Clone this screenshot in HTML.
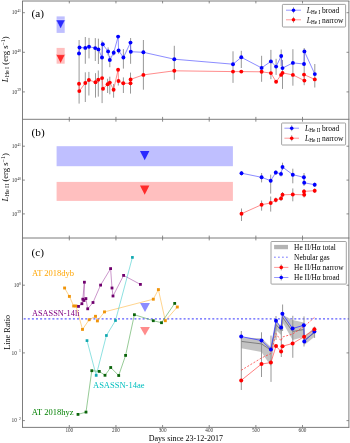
<!DOCTYPE html>
<html><head><meta charset="utf-8"><style>
html,body{margin:0;padding:0;background:#fff;width:350px;height:443px;overflow:hidden}
svg{display:block;will-change:transform}
text{font-family:"Liberation Serif",serif}
</style></head><body>
<svg width="350" height="443" viewBox="0 0 350 443">
<rect width="350" height="443" fill="#fff"/>
<g id="pa">
<rect x="56.60" y="16.40" width="8.10" height="16.50" fill="#bfbfff" />
<polygon points="56.00,19.90 65.20,19.90 60.60,29.00" fill="#2a2aff" stroke="#e8e8ff" stroke-width="0.5"/>
<rect x="56.60" y="47.90" width="8.10" height="15.80" fill="#ffbfbf" />
<polygon points="56.00,54.60 65.20,54.60 60.60,63.70" fill="#ff2a2a" stroke="#ffe8e8" stroke-width="0.5"/>
<line x1="79.10" y1="40.00" x2="79.10" y2="103.60" stroke="#8c8c8c" stroke-width="0.9" />
<line x1="85.30" y1="37.00" x2="85.30" y2="63.80" stroke="#8c8c8c" stroke-width="0.9" />
<line x1="89.00" y1="37.90" x2="89.00" y2="58.40" stroke="#8c8c8c" stroke-width="0.9" />
<line x1="95.30" y1="38.10" x2="95.30" y2="61.00" stroke="#8c8c8c" stroke-width="0.9" />
<line x1="98.40" y1="38.70" x2="98.40" y2="64.00" stroke="#8c8c8c" stroke-width="0.9" />
<line x1="102.10" y1="40.60" x2="102.10" y2="103.10" stroke="#8c8c8c" stroke-width="0.9" />
<line x1="108.10" y1="47.40" x2="108.10" y2="55.40" stroke="#8c8c8c" stroke-width="0.9" />
<line x1="109.80" y1="56.00" x2="109.80" y2="67.20" stroke="#8c8c8c" stroke-width="0.9" />
<line x1="113.70" y1="50.00" x2="113.70" y2="55.50" stroke="#8c8c8c" stroke-width="0.9" />
<line x1="118.60" y1="49.00" x2="118.60" y2="53.70" stroke="#8c8c8c" stroke-width="0.9" />
<line x1="123.40" y1="49.10" x2="123.40" y2="68.60" stroke="#8c8c8c" stroke-width="0.9" />
<line x1="130.60" y1="38.00" x2="130.60" y2="63.80" stroke="#8c8c8c" stroke-width="0.9" />
<line x1="85.30" y1="72.30" x2="85.30" y2="102.00" stroke="#8c8c8c" stroke-width="0.9" />
<line x1="88.90" y1="71.90" x2="88.90" y2="95.50" stroke="#8c8c8c" stroke-width="0.9" />
<line x1="95.50" y1="73.20" x2="95.50" y2="97.60" stroke="#8c8c8c" stroke-width="0.9" />
<line x1="98.30" y1="70.50" x2="98.30" y2="96.60" stroke="#8c8c8c" stroke-width="0.9" />
<line x1="107.60" y1="78.70" x2="107.60" y2="93.00" stroke="#8c8c8c" stroke-width="0.9" />
<line x1="109.80" y1="76.70" x2="109.80" y2="94.30" stroke="#8c8c8c" stroke-width="0.9" />
<line x1="113.60" y1="84.00" x2="113.60" y2="97.70" stroke="#8c8c8c" stroke-width="0.9" />
<line x1="118.30" y1="79.40" x2="118.30" y2="85.50" stroke="#8c8c8c" stroke-width="0.9" />
<line x1="123.40" y1="77.40" x2="123.40" y2="93.00" stroke="#8c8c8c" stroke-width="0.9" />
<line x1="130.50" y1="72.60" x2="130.50" y2="93.60" stroke="#8c8c8c" stroke-width="0.9" />
<line x1="143.40" y1="40.00" x2="143.40" y2="89.70" stroke="#8c8c8c" stroke-width="0.9" />
<line x1="174.30" y1="45.80" x2="174.30" y2="79.70" stroke="#8c8c8c" stroke-width="0.9" />
<line x1="233.00" y1="51.30" x2="233.00" y2="82.90" stroke="#8c8c8c" stroke-width="0.9" />
<line x1="241.30" y1="50.80" x2="241.30" y2="68.00" stroke="#8c8c8c" stroke-width="0.9" />
<line x1="261.60" y1="55.80" x2="261.60" y2="81.80" stroke="#8c8c8c" stroke-width="0.9" />
<line x1="270.90" y1="49.90" x2="270.90" y2="79.20" stroke="#8c8c8c" stroke-width="0.9" />
<line x1="276.10" y1="58.80" x2="276.10" y2="74.90" stroke="#8c8c8c" stroke-width="0.9" />
<line x1="281.20" y1="49.50" x2="281.20" y2="66.00" stroke="#8c8c8c" stroke-width="0.9" />
<line x1="282.50" y1="60.00" x2="282.50" y2="88.90" stroke="#8c8c8c" stroke-width="0.9" />
<line x1="292.90" y1="49.20" x2="292.90" y2="85.70" stroke="#8c8c8c" stroke-width="0.9" />
<line x1="304.20" y1="48.00" x2="304.20" y2="85.20" stroke="#8c8c8c" stroke-width="0.9" />
<line x1="314.80" y1="64.00" x2="314.80" y2="87.50" stroke="#8c8c8c" stroke-width="0.9" />
<polyline points="79.00,53.50 79.50,47.50 85.30,47.90 89.00,46.70 95.20,48.10 98.40,49.40 102.00,57.50 102.80,44.30 108.10,51.40 109.80,60.00 113.70,52.70 118.10,36.60 118.60,50.50 123.40,57.50 130.50,42.60 130.80,51.70 143.40,52.30 174.30,59.20 233.00,64.20 241.30,57.30 261.60,67.90 270.90,61.40 276.10,66.60 281.20,56.00 282.50,68.10 292.90,62.90 304.00,64.00 304.40,51.40 314.80,74.10" fill="none" stroke="#5a5aff" stroke-width="0.7" />
<polyline points="79.00,83.70 79.30,91.10 85.30,83.00 88.90,80.00 95.50,82.20 98.30,79.70 102.10,78.10 103.00,88.70 107.60,84.30 109.80,82.60 113.60,89.70 118.10,69.80 118.50,81.00 123.30,83.30 130.50,83.30 130.60,79.40 143.40,74.90 174.30,70.80 233.00,71.60 241.30,71.60 261.60,71.80 270.90,73.10 276.10,81.80 281.10,74.90 282.50,72.90 292.90,74.90 304.40,80.60 304.00,74.60 314.80,79.40" fill="none" stroke="#ff5a5a" stroke-width="0.7" />
<circle cx="79.00" cy="53.50" r="1.95" fill="#0000ff"/>
<circle cx="79.50" cy="47.50" r="1.95" fill="#0000ff"/>
<circle cx="85.30" cy="47.90" r="1.95" fill="#0000ff"/>
<circle cx="89.00" cy="46.70" r="1.95" fill="#0000ff"/>
<circle cx="95.20" cy="48.10" r="1.95" fill="#0000ff"/>
<circle cx="98.40" cy="49.40" r="1.95" fill="#0000ff"/>
<circle cx="102.00" cy="57.50" r="1.95" fill="#0000ff"/>
<circle cx="102.80" cy="44.30" r="1.95" fill="#0000ff"/>
<circle cx="108.10" cy="51.40" r="1.95" fill="#0000ff"/>
<circle cx="109.80" cy="60.00" r="1.95" fill="#0000ff"/>
<circle cx="113.70" cy="52.70" r="1.95" fill="#0000ff"/>
<circle cx="118.10" cy="36.60" r="1.95" fill="#0000ff"/>
<circle cx="118.60" cy="50.50" r="1.95" fill="#0000ff"/>
<circle cx="123.40" cy="57.50" r="1.95" fill="#0000ff"/>
<circle cx="130.50" cy="42.60" r="1.95" fill="#0000ff"/>
<circle cx="130.80" cy="51.70" r="1.95" fill="#0000ff"/>
<circle cx="143.40" cy="52.30" r="1.95" fill="#0000ff"/>
<circle cx="174.30" cy="59.20" r="1.95" fill="#0000ff"/>
<circle cx="233.00" cy="64.20" r="1.95" fill="#0000ff"/>
<circle cx="241.30" cy="57.30" r="1.95" fill="#0000ff"/>
<circle cx="261.60" cy="67.90" r="1.95" fill="#0000ff"/>
<circle cx="270.90" cy="61.40" r="1.95" fill="#0000ff"/>
<circle cx="276.10" cy="66.60" r="1.95" fill="#0000ff"/>
<circle cx="281.20" cy="56.00" r="1.95" fill="#0000ff"/>
<circle cx="282.50" cy="68.10" r="1.95" fill="#0000ff"/>
<circle cx="292.90" cy="62.90" r="1.95" fill="#0000ff"/>
<circle cx="304.00" cy="64.00" r="1.95" fill="#0000ff"/>
<circle cx="304.40" cy="51.40" r="1.95" fill="#0000ff"/>
<circle cx="314.80" cy="74.10" r="1.95" fill="#0000ff"/>
<circle cx="79.00" cy="83.70" r="1.95" fill="#ff0000"/>
<circle cx="79.30" cy="91.10" r="1.95" fill="#ff0000"/>
<circle cx="85.30" cy="83.00" r="1.95" fill="#ff0000"/>
<circle cx="88.90" cy="80.00" r="1.95" fill="#ff0000"/>
<circle cx="95.50" cy="82.20" r="1.95" fill="#ff0000"/>
<circle cx="98.30" cy="79.70" r="1.95" fill="#ff0000"/>
<circle cx="102.10" cy="78.10" r="1.95" fill="#ff0000"/>
<circle cx="103.00" cy="88.70" r="1.95" fill="#ff0000"/>
<circle cx="107.60" cy="84.30" r="1.95" fill="#ff0000"/>
<circle cx="109.80" cy="82.60" r="1.95" fill="#ff0000"/>
<circle cx="113.60" cy="89.70" r="1.95" fill="#ff0000"/>
<circle cx="118.10" cy="69.80" r="1.95" fill="#ff0000"/>
<circle cx="118.50" cy="81.00" r="1.95" fill="#ff0000"/>
<circle cx="123.30" cy="83.30" r="1.95" fill="#ff0000"/>
<circle cx="130.50" cy="83.30" r="1.95" fill="#ff0000"/>
<circle cx="130.60" cy="79.40" r="1.95" fill="#ff0000"/>
<circle cx="143.40" cy="74.90" r="1.95" fill="#ff0000"/>
<circle cx="174.30" cy="70.80" r="1.95" fill="#ff0000"/>
<circle cx="233.00" cy="71.60" r="1.95" fill="#ff0000"/>
<circle cx="241.30" cy="71.60" r="1.95" fill="#ff0000"/>
<circle cx="261.60" cy="71.80" r="1.95" fill="#ff0000"/>
<circle cx="270.90" cy="73.10" r="1.95" fill="#ff0000"/>
<circle cx="276.10" cy="81.80" r="1.95" fill="#ff0000"/>
<circle cx="281.10" cy="74.90" r="1.95" fill="#ff0000"/>
<circle cx="282.50" cy="72.90" r="1.95" fill="#ff0000"/>
<circle cx="292.90" cy="74.90" r="1.95" fill="#ff0000"/>
<circle cx="304.40" cy="80.60" r="1.95" fill="#ff0000"/>
<circle cx="304.00" cy="74.60" r="1.95" fill="#ff0000"/>
<circle cx="314.80" cy="79.40" r="1.95" fill="#ff0000"/>
</g>
<rect x="56.60" y="146.20" width="176.30" height="20.00" fill="#bfbfff" />
<rect x="56.60" y="181.90" width="176.30" height="19.00" fill="#ffbfbf" />
<polygon points="140.00,151.00 149.40,151.00 144.70,160.30" fill="#2a2aff" />
<polygon points="140.00,185.60 149.40,185.60 144.70,194.70" fill="#ff2a2a" />
<line x1="241.50" y1="171.00" x2="241.50" y2="175.50" stroke="#8c8c8c" stroke-width="0.9" />
<line x1="261.60" y1="173.00" x2="261.60" y2="182.40" stroke="#8c8c8c" stroke-width="0.9" />
<line x1="270.70" y1="174.70" x2="270.70" y2="193.60" stroke="#8c8c8c" stroke-width="0.9" />
<line x1="275.80" y1="170.50" x2="275.80" y2="175.00" stroke="#8c8c8c" stroke-width="0.9" />
<line x1="281.00" y1="171.50" x2="281.00" y2="176.50" stroke="#8c8c8c" stroke-width="0.9" />
<line x1="282.50" y1="162.70" x2="282.50" y2="170.00" stroke="#8c8c8c" stroke-width="0.9" />
<line x1="292.80" y1="168.70" x2="292.80" y2="183.30" stroke="#8c8c8c" stroke-width="0.9" />
<line x1="304.00" y1="173.00" x2="304.00" y2="186.00" stroke="#8c8c8c" stroke-width="0.9" />
<line x1="314.70" y1="182.50" x2="314.70" y2="187.00" stroke="#8c8c8c" stroke-width="0.9" />
<line x1="241.50" y1="208.50" x2="241.50" y2="221.00" stroke="#8c8c8c" stroke-width="0.9" />
<line x1="261.60" y1="200.50" x2="261.60" y2="210.70" stroke="#8c8c8c" stroke-width="0.9" />
<line x1="270.70" y1="196.50" x2="270.70" y2="211.60" stroke="#8c8c8c" stroke-width="0.9" />
<line x1="275.80" y1="197.50" x2="275.80" y2="202.50" stroke="#8c8c8c" stroke-width="0.9" />
<line x1="281.00" y1="196.00" x2="281.00" y2="201.00" stroke="#8c8c8c" stroke-width="0.9" />
<line x1="282.50" y1="192.00" x2="282.50" y2="197.50" stroke="#8c8c8c" stroke-width="0.9" />
<line x1="292.80" y1="188.40" x2="292.80" y2="201.30" stroke="#8c8c8c" stroke-width="0.9" />
<line x1="304.10" y1="189.00" x2="304.10" y2="197.50" stroke="#8c8c8c" stroke-width="0.9" />
<line x1="314.70" y1="188.50" x2="314.70" y2="193.00" stroke="#8c8c8c" stroke-width="0.9" />
<polyline points="241.50,173.20 261.60,177.30 270.70,180.70 275.80,172.50 281.00,173.90 282.50,167.00 292.80,174.70 303.90,177.30 304.20,182.80 314.70,184.70" fill="none" stroke="#5a5aff" stroke-width="0.7" />
<polyline points="241.50,213.70 261.60,204.70 270.70,203.00 275.80,200.00 281.00,198.40 282.50,194.80 292.80,194.50 304.20,194.80 304.00,191.40 314.70,190.70" fill="none" stroke="#ff5a5a" stroke-width="0.7" />
<circle cx="241.50" cy="173.20" r="1.95" fill="#0000ff"/>
<circle cx="261.60" cy="177.30" r="1.95" fill="#0000ff"/>
<circle cx="270.70" cy="180.70" r="1.95" fill="#0000ff"/>
<circle cx="275.80" cy="172.50" r="1.95" fill="#0000ff"/>
<circle cx="281.00" cy="173.90" r="1.95" fill="#0000ff"/>
<circle cx="282.50" cy="167.00" r="1.95" fill="#0000ff"/>
<circle cx="292.80" cy="174.70" r="1.95" fill="#0000ff"/>
<circle cx="303.90" cy="177.30" r="1.95" fill="#0000ff"/>
<circle cx="304.20" cy="182.80" r="1.95" fill="#0000ff"/>
<circle cx="314.70" cy="184.70" r="1.95" fill="#0000ff"/>
<circle cx="241.50" cy="213.70" r="1.95" fill="#ff0000"/>
<circle cx="261.60" cy="204.70" r="1.95" fill="#ff0000"/>
<circle cx="270.70" cy="203.00" r="1.95" fill="#ff0000"/>
<circle cx="275.80" cy="200.00" r="1.95" fill="#ff0000"/>
<circle cx="281.00" cy="198.40" r="1.95" fill="#ff0000"/>
<circle cx="282.50" cy="194.80" r="1.95" fill="#ff0000"/>
<circle cx="292.80" cy="194.50" r="1.95" fill="#ff0000"/>
<circle cx="304.20" cy="194.80" r="1.95" fill="#ff0000"/>
<circle cx="304.00" cy="191.40" r="1.95" fill="#ff0000"/>
<circle cx="314.70" cy="190.70" r="1.95" fill="#ff0000"/>
<line x1="23.70" y1="318.90" x2="348.90" y2="318.90" stroke="#5c5cff" stroke-width="1.1" stroke-dasharray="2,2.1"/>
<polygon points="140.10,303.00 149.90,303.00 145.00,312.10" fill="#8c8cff" />
<polygon points="140.10,327.00 149.90,327.00 145.00,335.60" fill="#ff8c8c" />
<polyline points="64.60,288.00 69.40,296.40 73.70,306.00 76.00,306.00 82.50,329.40 89.20,319.70 95.50,316.30 97.40,320.90 104.50,311.90 153.30,299.20 158.40,289.60 165.30,320.70 177.30,307.00" fill="none" stroke="#ffb030" stroke-width="0.55" />
<rect x="63.15" y="286.55" width="2.9" height="2.9" fill="#f0940a"/>
<rect x="67.95" y="294.95" width="2.9" height="2.9" fill="#f0940a"/>
<rect x="72.25" y="304.55" width="2.9" height="2.9" fill="#f0940a"/>
<rect x="74.55" y="304.55" width="2.9" height="2.9" fill="#f0940a"/>
<rect x="81.05" y="327.95" width="2.9" height="2.9" fill="#f0940a"/>
<rect x="87.75" y="318.25" width="2.9" height="2.9" fill="#f0940a"/>
<rect x="94.05" y="314.85" width="2.9" height="2.9" fill="#f0940a"/>
<rect x="95.95" y="319.45" width="2.9" height="2.9" fill="#f0940a"/>
<rect x="103.05" y="310.45" width="2.9" height="2.9" fill="#f0940a"/>
<rect x="151.85" y="297.75" width="2.9" height="2.9" fill="#f0940a"/>
<rect x="156.95" y="288.15" width="2.9" height="2.9" fill="#f0940a"/>
<rect x="163.85" y="319.25" width="2.9" height="2.9" fill="#f0940a"/>
<rect x="175.85" y="305.55" width="2.9" height="2.9" fill="#f0940a"/>
<polyline points="78.50,306.40 81.90,303.70 82.80,299.20 84.40,282.20 84.00,300.50 85.90,298.60 87.70,308.80 93.00,302.50 100.60,285.10 110.60,268.60 112.00,288.00 113.00,296.00 123.60,275.40 140.40,284.40" fill="none" stroke="#a040a0" stroke-width="0.55" />
<rect x="77.10" y="305.00" width="2.8" height="2.8" fill="#70006e"/>
<rect x="80.50" y="302.30" width="2.8" height="2.8" fill="#70006e"/>
<rect x="81.40" y="297.80" width="2.8" height="2.8" fill="#70006e"/>
<rect x="83.00" y="280.80" width="2.8" height="2.8" fill="#70006e"/>
<rect x="82.60" y="299.10" width="2.8" height="2.8" fill="#70006e"/>
<rect x="84.50" y="297.20" width="2.8" height="2.8" fill="#70006e"/>
<rect x="86.30" y="307.40" width="2.8" height="2.8" fill="#70006e"/>
<rect x="91.60" y="301.10" width="2.8" height="2.8" fill="#70006e"/>
<rect x="99.20" y="283.70" width="2.8" height="2.8" fill="#70006e"/>
<rect x="109.20" y="267.20" width="2.8" height="2.8" fill="#70006e"/>
<rect x="110.60" y="286.60" width="2.8" height="2.8" fill="#70006e"/>
<rect x="111.60" y="294.60" width="2.8" height="2.8" fill="#70006e"/>
<rect x="122.20" y="274.00" width="2.8" height="2.8" fill="#70006e"/>
<rect x="139.00" y="283.00" width="2.8" height="2.8" fill="#70006e"/>
<polyline points="87.00,340.60 96.20,375.40 106.40,335.50 115.50,320.50 132.40,257.40" fill="none" stroke="#30c8c8" stroke-width="0.55" />
<rect x="85.65" y="339.25" width="2.7" height="2.7" fill="#10a8b0"/>
<rect x="94.85" y="374.05" width="2.7" height="2.7" fill="#10a8b0"/>
<rect x="105.05" y="334.15" width="2.7" height="2.7" fill="#10a8b0"/>
<rect x="114.15" y="319.15" width="2.7" height="2.7" fill="#10a8b0"/>
<rect x="131.05" y="256.05" width="2.7" height="2.7" fill="#10a8b0"/>
<polyline points="78.00,414.40 86.00,412.10 91.80,370.70 99.30,371.40 105.00,375.30 110.70,367.50 118.70,375.50 125.60,355.40 134.40,314.70 153.30,320.70 161.50,322.70 174.70,303.40" fill="none" stroke="#40a040" stroke-width="0.55" />
<rect x="76.60" y="413.00" width="2.8" height="2.8" fill="#0a640a"/>
<rect x="84.60" y="410.70" width="2.8" height="2.8" fill="#0a640a"/>
<rect x="90.40" y="369.30" width="2.8" height="2.8" fill="#0a640a"/>
<rect x="97.90" y="370.00" width="2.8" height="2.8" fill="#0a640a"/>
<rect x="103.60" y="373.90" width="2.8" height="2.8" fill="#0a640a"/>
<rect x="109.30" y="366.10" width="2.8" height="2.8" fill="#0a640a"/>
<rect x="117.30" y="374.10" width="2.8" height="2.8" fill="#0a640a"/>
<rect x="124.20" y="354.00" width="2.8" height="2.8" fill="#0a640a"/>
<rect x="133.00" y="313.30" width="2.8" height="2.8" fill="#0a640a"/>
<rect x="151.90" y="319.30" width="2.8" height="2.8" fill="#0a640a"/>
<rect x="160.10" y="321.30" width="2.8" height="2.8" fill="#0a640a"/>
<rect x="173.30" y="302.00" width="2.8" height="2.8" fill="#0a640a"/>
<polygon points="241.30,337.60 261.50,338.20 271.00,347.00 276.00,321.50 281.10,326.50 282.40,314.80 292.60,320.00 303.80,322.50 304.30,336.00 314.30,328.00 314.30,337.00 304.30,345.00 303.80,337.00 292.60,340.00 282.40,322.00 281.10,335.00 276.00,330.00 271.00,366.50 261.50,352.00 241.30,348.30" fill="#b8b8b8" fill-opacity="0.85"/>
<polyline points="241.30,341.40 261.50,343.90 271.00,350.20 276.00,324.50 281.10,330.50 282.40,317.00 292.60,331.50 303.80,329.50 304.30,340.00 314.30,333.00" fill="none" stroke="#505050" stroke-width="0.6" />
<line x1="241.30" y1="331.00" x2="241.30" y2="390.00" stroke="#8c8c8c" stroke-width="0.9" />
<line x1="261.50" y1="332.30" x2="261.50" y2="377.00" stroke="#8c8c8c" stroke-width="0.9" />
<line x1="271.00" y1="335.60" x2="271.00" y2="381.90" stroke="#8c8c8c" stroke-width="0.9" />
<line x1="276.00" y1="316.00" x2="276.00" y2="340.00" stroke="#8c8c8c" stroke-width="0.9" />
<line x1="281.30" y1="324.30" x2="281.30" y2="357.00" stroke="#8c8c8c" stroke-width="0.9" />
<line x1="282.60" y1="304.50" x2="282.60" y2="331.00" stroke="#8c8c8c" stroke-width="0.9" />
<line x1="292.80" y1="315.80" x2="292.80" y2="357.80" stroke="#8c8c8c" stroke-width="0.9" />
<line x1="304.00" y1="316.40" x2="304.00" y2="346.50" stroke="#8c8c8c" stroke-width="0.9" />
<line x1="314.60" y1="326.60" x2="314.60" y2="337.90" stroke="#8c8c8c" stroke-width="0.9" />
<polyline points="241.20,370.30 261.50,358.00 270.90,353.50 276.00,333.50 281.10,341.00 282.50,337.00 292.60,334.00 304.10,326.50 314.40,317.50" fill="none" stroke="#ff4040" stroke-width="0.8" stroke-dasharray="2,1.6"/>
<polyline points="241.20,336.60 261.50,340.50 270.90,349.40 276.00,320.70 281.10,327.60 282.40,313.80 292.60,328.50 303.80,325.30 304.30,341.50 314.40,331.60" fill="none" stroke="#3a3aff" stroke-width="0.8" />
<polyline points="241.20,380.40 261.50,364.00 270.90,362.60 276.00,346.10 281.10,351.60 282.50,346.20 292.60,343.50 304.10,336.70 314.40,329.30" fill="none" stroke="#ff4a4a" stroke-width="0.7" />
<circle cx="241.20" cy="336.60" r="2.0" fill="#0000ff"/>
<circle cx="261.50" cy="340.50" r="2.0" fill="#0000ff"/>
<circle cx="270.90" cy="349.40" r="2.0" fill="#0000ff"/>
<circle cx="276.00" cy="320.70" r="2.0" fill="#0000ff"/>
<circle cx="281.10" cy="327.60" r="2.0" fill="#0000ff"/>
<circle cx="282.40" cy="313.80" r="2.0" fill="#0000ff"/>
<circle cx="292.60" cy="328.50" r="2.0" fill="#0000ff"/>
<circle cx="303.80" cy="325.30" r="2.0" fill="#0000ff"/>
<circle cx="304.30" cy="341.50" r="2.0" fill="#0000ff"/>
<circle cx="314.40" cy="331.60" r="2.0" fill="#0000ff"/>
<circle cx="241.20" cy="380.40" r="2.0" fill="#ff0000"/>
<circle cx="261.50" cy="364.00" r="2.0" fill="#ff0000"/>
<circle cx="270.90" cy="362.60" r="2.0" fill="#ff0000"/>
<circle cx="276.00" cy="346.10" r="2.0" fill="#ff0000"/>
<circle cx="281.10" cy="351.60" r="2.0" fill="#ff0000"/>
<circle cx="282.50" cy="346.20" r="2.0" fill="#ff0000"/>
<circle cx="292.60" cy="343.50" r="2.0" fill="#ff0000"/>
<circle cx="304.10" cy="336.70" r="2.0" fill="#ff0000"/>
<circle cx="314.40" cy="329.30" r="2.0" fill="#ff0000"/>
<line x1="22.05" y1="1.00" x2="349.35" y2="1.00" stroke="#6e6e6e" stroke-width="0.9" />
<line x1="22.05" y1="119.30" x2="349.35" y2="119.30" stroke="#6e6e6e" stroke-width="0.9" />
<line x1="22.50" y1="1.00" x2="22.50" y2="119.30" stroke="#6e6e6e" stroke-width="0.9" />
<line x1="348.90" y1="1.00" x2="348.90" y2="119.30" stroke="#6e6e6e" stroke-width="0.9" />
<line x1="69.30" y1="1.00" x2="69.30" y2="3.40" stroke="#6e6e6e" stroke-width="0.8" />
<line x1="69.30" y1="119.30" x2="69.30" y2="116.90" stroke="#6e6e6e" stroke-width="0.8" />
<line x1="115.94" y1="1.00" x2="115.94" y2="3.40" stroke="#6e6e6e" stroke-width="0.8" />
<line x1="115.94" y1="119.30" x2="115.94" y2="116.90" stroke="#6e6e6e" stroke-width="0.8" />
<line x1="162.58" y1="1.00" x2="162.58" y2="3.40" stroke="#6e6e6e" stroke-width="0.8" />
<line x1="162.58" y1="119.30" x2="162.58" y2="116.90" stroke="#6e6e6e" stroke-width="0.8" />
<line x1="209.22" y1="1.00" x2="209.22" y2="3.40" stroke="#6e6e6e" stroke-width="0.8" />
<line x1="209.22" y1="119.30" x2="209.22" y2="116.90" stroke="#6e6e6e" stroke-width="0.8" />
<line x1="255.86" y1="1.00" x2="255.86" y2="3.40" stroke="#6e6e6e" stroke-width="0.8" />
<line x1="255.86" y1="119.30" x2="255.86" y2="116.90" stroke="#6e6e6e" stroke-width="0.8" />
<line x1="302.50" y1="1.00" x2="302.50" y2="3.40" stroke="#6e6e6e" stroke-width="0.8" />
<line x1="302.50" y1="119.30" x2="302.50" y2="116.90" stroke="#6e6e6e" stroke-width="0.8" />
<line x1="22.05" y1="238.00" x2="349.35" y2="238.00" stroke="#6e6e6e" stroke-width="0.9" />
<line x1="22.50" y1="119.30" x2="22.50" y2="238.00" stroke="#6e6e6e" stroke-width="0.9" />
<line x1="348.90" y1="119.30" x2="348.90" y2="238.00" stroke="#6e6e6e" stroke-width="0.9" />
<line x1="69.30" y1="119.30" x2="69.30" y2="121.70" stroke="#6e6e6e" stroke-width="0.8" />
<line x1="69.30" y1="238.00" x2="69.30" y2="235.60" stroke="#6e6e6e" stroke-width="0.8" />
<line x1="115.94" y1="119.30" x2="115.94" y2="121.70" stroke="#6e6e6e" stroke-width="0.8" />
<line x1="115.94" y1="238.00" x2="115.94" y2="235.60" stroke="#6e6e6e" stroke-width="0.8" />
<line x1="162.58" y1="119.30" x2="162.58" y2="121.70" stroke="#6e6e6e" stroke-width="0.8" />
<line x1="162.58" y1="238.00" x2="162.58" y2="235.60" stroke="#6e6e6e" stroke-width="0.8" />
<line x1="209.22" y1="119.30" x2="209.22" y2="121.70" stroke="#6e6e6e" stroke-width="0.8" />
<line x1="209.22" y1="238.00" x2="209.22" y2="235.60" stroke="#6e6e6e" stroke-width="0.8" />
<line x1="255.86" y1="119.30" x2="255.86" y2="121.70" stroke="#6e6e6e" stroke-width="0.8" />
<line x1="255.86" y1="238.00" x2="255.86" y2="235.60" stroke="#6e6e6e" stroke-width="0.8" />
<line x1="302.50" y1="119.30" x2="302.50" y2="121.70" stroke="#6e6e6e" stroke-width="0.8" />
<line x1="302.50" y1="238.00" x2="302.50" y2="235.60" stroke="#6e6e6e" stroke-width="0.8" />
<line x1="22.05" y1="427.40" x2="349.35" y2="427.40" stroke="#6e6e6e" stroke-width="0.9" />
<line x1="22.50" y1="238.00" x2="22.50" y2="427.40" stroke="#6e6e6e" stroke-width="0.9" />
<line x1="348.90" y1="238.00" x2="348.90" y2="427.40" stroke="#6e6e6e" stroke-width="0.9" />
<line x1="69.30" y1="238.00" x2="69.30" y2="240.40" stroke="#6e6e6e" stroke-width="0.8" />
<line x1="69.30" y1="427.40" x2="69.30" y2="425.00" stroke="#6e6e6e" stroke-width="0.8" />
<line x1="115.94" y1="238.00" x2="115.94" y2="240.40" stroke="#6e6e6e" stroke-width="0.8" />
<line x1="115.94" y1="427.40" x2="115.94" y2="425.00" stroke="#6e6e6e" stroke-width="0.8" />
<line x1="162.58" y1="238.00" x2="162.58" y2="240.40" stroke="#6e6e6e" stroke-width="0.8" />
<line x1="162.58" y1="427.40" x2="162.58" y2="425.00" stroke="#6e6e6e" stroke-width="0.8" />
<line x1="209.22" y1="238.00" x2="209.22" y2="240.40" stroke="#6e6e6e" stroke-width="0.8" />
<line x1="209.22" y1="427.40" x2="209.22" y2="425.00" stroke="#6e6e6e" stroke-width="0.8" />
<line x1="255.86" y1="238.00" x2="255.86" y2="240.40" stroke="#6e6e6e" stroke-width="0.8" />
<line x1="255.86" y1="427.40" x2="255.86" y2="425.00" stroke="#6e6e6e" stroke-width="0.8" />
<line x1="302.50" y1="238.00" x2="302.50" y2="240.40" stroke="#6e6e6e" stroke-width="0.8" />
<line x1="302.50" y1="427.40" x2="302.50" y2="425.00" stroke="#6e6e6e" stroke-width="0.8" />
<line x1="22.50" y1="12.70" x2="24.90" y2="12.70" stroke="#6e6e6e" stroke-width="0.8" />
<line x1="348.90" y1="12.70" x2="346.50" y2="12.70" stroke="#6e6e6e" stroke-width="0.8" />
<text x="21.0" y="14.40" font-size="5.4" fill="#333" text-anchor="end">10<tspan font-size="3.8" dy="-2.2">41</tspan></text>
<line x1="22.50" y1="52.30" x2="24.90" y2="52.30" stroke="#6e6e6e" stroke-width="0.8" />
<line x1="348.90" y1="52.30" x2="346.50" y2="52.30" stroke="#6e6e6e" stroke-width="0.8" />
<text x="21.0" y="54.00" font-size="5.4" fill="#333" text-anchor="end">10<tspan font-size="3.8" dy="-2.2">40</tspan></text>
<line x1="22.50" y1="91.90" x2="24.90" y2="91.90" stroke="#6e6e6e" stroke-width="0.8" />
<line x1="348.90" y1="91.90" x2="346.50" y2="91.90" stroke="#6e6e6e" stroke-width="0.8" />
<text x="21.0" y="93.60" font-size="5.4" fill="#333" text-anchor="end">10<tspan font-size="3.8" dy="-2.2">39</tspan></text>
<line x1="22.50" y1="146.20" x2="24.90" y2="146.20" stroke="#6e6e6e" stroke-width="0.8" />
<line x1="348.90" y1="146.20" x2="346.50" y2="146.20" stroke="#6e6e6e" stroke-width="0.8" />
<text x="21.0" y="147.90" font-size="5.4" fill="#333" text-anchor="end">10<tspan font-size="3.8" dy="-2.2">41</tspan></text>
<line x1="22.50" y1="180.10" x2="24.90" y2="180.10" stroke="#6e6e6e" stroke-width="0.8" />
<line x1="348.90" y1="180.10" x2="346.50" y2="180.10" stroke="#6e6e6e" stroke-width="0.8" />
<text x="21.0" y="181.80" font-size="5.4" fill="#333" text-anchor="end">10<tspan font-size="3.8" dy="-2.2">40</tspan></text>
<line x1="22.50" y1="213.90" x2="24.90" y2="213.90" stroke="#6e6e6e" stroke-width="0.8" />
<line x1="348.90" y1="213.90" x2="346.50" y2="213.90" stroke="#6e6e6e" stroke-width="0.8" />
<text x="21.0" y="215.60" font-size="5.4" fill="#333" text-anchor="end">10<tspan font-size="3.8" dy="-2.2">39</tspan></text>
<line x1="22.50" y1="285.20" x2="24.90" y2="285.20" stroke="#6e6e6e" stroke-width="0.8" />
<line x1="348.90" y1="285.20" x2="346.50" y2="285.20" stroke="#6e6e6e" stroke-width="0.8" />
<text x="21.0" y="286.90" font-size="5.4" fill="#333" text-anchor="end">10<tspan font-size="3.8" dy="-2.2">0</tspan></text>
<line x1="22.50" y1="352.90" x2="24.90" y2="352.90" stroke="#6e6e6e" stroke-width="0.8" />
<line x1="348.90" y1="352.90" x2="346.50" y2="352.90" stroke="#6e6e6e" stroke-width="0.8" />
<text x="21.0" y="354.60" font-size="5.4" fill="#333" text-anchor="end">10<tspan font-size="3.8" dy="-2.2">&#8722;1</tspan></text>
<line x1="22.50" y1="420.60" x2="24.90" y2="420.60" stroke="#6e6e6e" stroke-width="0.8" />
<line x1="348.90" y1="420.60" x2="346.50" y2="420.60" stroke="#6e6e6e" stroke-width="0.8" />
<text x="21.0" y="422.30" font-size="5.4" fill="#333" text-anchor="end">10<tspan font-size="3.8" dy="-2.2">&#8722;2</tspan></text>
<text x="69.30" y="432.20" font-size="5.2" fill="#333" text-anchor="middle" >100</text>
<text x="115.94" y="432.20" font-size="5.2" fill="#333" text-anchor="middle" >200</text>
<text x="162.58" y="432.20" font-size="5.2" fill="#333" text-anchor="middle" >300</text>
<text x="209.22" y="432.20" font-size="5.2" fill="#333" text-anchor="middle" >400</text>
<text x="255.86" y="432.20" font-size="5.2" fill="#333" text-anchor="middle" >500</text>
<text x="302.50" y="432.20" font-size="5.2" fill="#333" text-anchor="middle" >600</text>
<text x="31.60" y="16.90" font-size="11.2" fill="#000" text-anchor="start" >(a)</text>
<text x="31.60" y="135.90" font-size="11.2" fill="#000" text-anchor="start" >(b)</text>
<text x="31.60" y="256.10" font-size="11.2" fill="#000" text-anchor="start" >(c)</text>
<text x="185.80" y="440.60" font-size="8" fill="#000" text-anchor="middle" >Days since 23-12-2017</text>
<text transform="translate(8.2,59.20) rotate(-90)" font-size="8.6" text-anchor="middle"><tspan font-style="italic">L</tspan><tspan font-size="6.2" dy="1.0">He&#8201;I</tspan><tspan dy="-1.0"> (erg s</tspan><tspan font-size="6" dy="-3.3">&#8722;1</tspan><tspan dy="3.3">)</tspan></text>
<text transform="translate(8.2,177.30) rotate(-90)" font-size="8.6" text-anchor="middle"><tspan font-style="italic">L</tspan><tspan font-size="6.4" dy="1.0">He&#8201;II</tspan><tspan dy="-1.0"> (erg s</tspan><tspan font-size="6" dy="-3.3">&#8722;1</tspan><tspan dy="3.3">)</tspan></text>
<text transform="translate(9.9,332.40) rotate(-90)" font-size="8.2" text-anchor="middle">Line Ratio</text>
<text x="32.00" y="275.50" font-size="8.5" fill="#ffa500" text-anchor="start" >AT 2018dyb</text>
<text x="32.00" y="315.60" font-size="8.3" fill="#800080" text-anchor="start" >ASASSN-14li</text>
<text x="93.00" y="388.30" font-size="8.5" fill="#00bfbf" text-anchor="start" >ASASSN-14ae</text>
<text x="31.80" y="414.90" font-size="8.5" fill="#008000" text-anchor="start" >AT 2018hyz</text>
<rect x="282.4" y="4.4" width="63.20" height="22.60" fill="#fff" fill-opacity="0.85" stroke="#8a8a8a" stroke-width="0.8" rx="0.8"/>
<line x1="286.00" y1="10.20" x2="301.00" y2="10.20" stroke="#6a6aff" stroke-width="0.7" />
<line x1="293.50" y1="7.20" x2="293.50" y2="13.20" stroke="#8c8c8c" stroke-width="0.8" />
<circle cx="293.50" cy="10.20" r="1.8" fill="#0000ff"/>
<line x1="286.00" y1="19.80" x2="301.00" y2="19.80" stroke="#ff6a6a" stroke-width="0.7" />
<line x1="293.50" y1="16.80" x2="293.50" y2="22.80" stroke="#8c8c8c" stroke-width="0.8" />
<circle cx="293.50" cy="19.80" r="1.8" fill="#ff0000"/>
<text x="306.80" y="12.90" font-size="7.5"><tspan font-style="italic">L</tspan><tspan font-size="5.3" dy="1.4">He I</tspan><tspan dy="-1.4"> broad</tspan></text>
<text x="306.80" y="22.50" font-size="7.5"><tspan font-style="italic">L</tspan><tspan font-size="5.3" dy="1.4">He I</tspan><tspan dy="-1.4"> narrow</tspan></text>
<rect x="281.6" y="123.0" width="64.00" height="22.00" fill="#fff" fill-opacity="0.85" stroke="#8a8a8a" stroke-width="0.8" rx="0.8"/>
<line x1="284.40" y1="128.20" x2="299.00" y2="128.20" stroke="#6a6aff" stroke-width="0.7" />
<line x1="291.70" y1="125.20" x2="291.70" y2="131.20" stroke="#8c8c8c" stroke-width="0.8" />
<circle cx="291.70" cy="128.20" r="1.8" fill="#0000ff"/>
<line x1="284.40" y1="138.20" x2="299.00" y2="138.20" stroke="#ff6a6a" stroke-width="0.7" />
<line x1="291.70" y1="135.20" x2="291.70" y2="141.20" stroke="#8c8c8c" stroke-width="0.8" />
<circle cx="291.70" cy="138.20" r="1.8" fill="#ff0000"/>
<text x="305.00" y="130.90" font-size="7.5"><tspan font-style="italic">L</tspan><tspan font-size="5.3" dy="1.4">He II</tspan><tspan dy="-1.4"> broad</tspan></text>
<text x="305.00" y="140.90" font-size="7.5"><tspan font-style="italic">L</tspan><tspan font-size="5.3" dy="1.4">He II</tspan><tspan dy="-1.4"> narrow</tspan></text>
<rect x="271.0" y="241.5" width="75.30" height="42.60" fill="#fff" fill-opacity="0.85" stroke="#8a8a8a" stroke-width="0.8" rx="0.8"/>
<rect x="274.10" y="244.90" width="13.90" height="4.30" fill="#b4b4b4" />
<line x1="274.10" y1="257.20" x2="288.00" y2="257.20" stroke="#6a6aff" stroke-width="1.0" stroke-dasharray="1.6,2.4"/>
<line x1="274.10" y1="267.40" x2="288.40" y2="267.40" stroke="#ff6a6a" stroke-width="0.7" />
<line x1="281.25" y1="264.40" x2="281.25" y2="270.40" stroke="#8c8c8c" stroke-width="0.8" />
<circle cx="281.25" cy="267.40" r="1.8" fill="#ff0000"/>
<line x1="274.10" y1="277.50" x2="288.40" y2="277.50" stroke="#6a6aff" stroke-width="0.7" />
<line x1="281.25" y1="274.50" x2="281.25" y2="280.50" stroke="#8c8c8c" stroke-width="0.8" />
<circle cx="281.25" cy="277.50" r="1.8" fill="#0000ff"/>
<text x="294.10" y="249.60" font-size="7.4" fill="#000" text-anchor="start" >He II/H&#945; total</text>
<text x="294.10" y="259.60" font-size="7.4" fill="#000" text-anchor="start" >Nebular gas</text>
<text x="294.10" y="269.70" font-size="7.4" fill="#000" text-anchor="start" >He II/H&#945; narrow</text>
<text x="294.10" y="279.70" font-size="7.4" fill="#000" text-anchor="start" >He II/H&#945; broad</text>
</svg>
</body></html>
